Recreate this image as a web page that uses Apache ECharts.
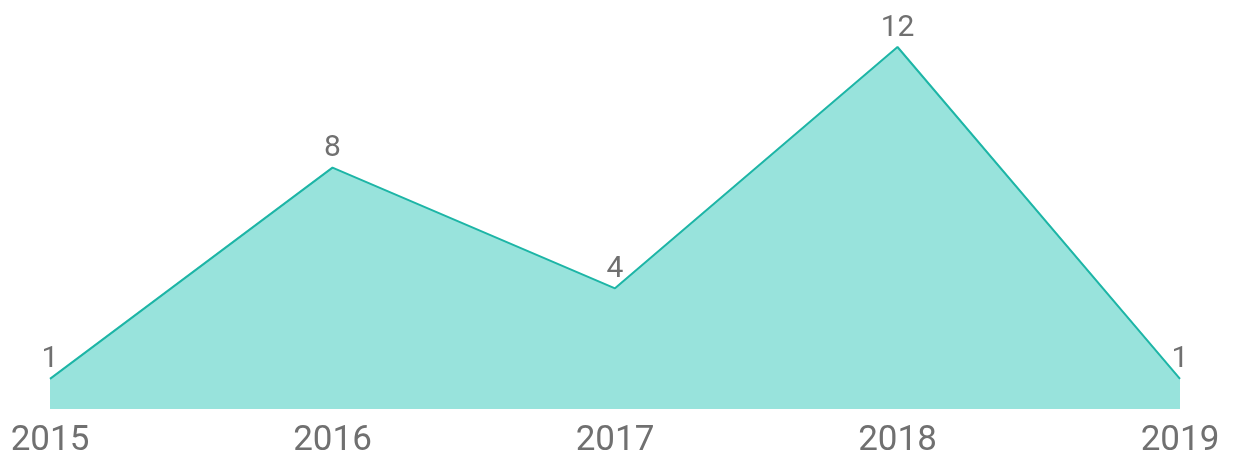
<!DOCTYPE html>
<html>
<head>
<meta charset="utf-8">
<script src="https://cdn.jsdelivr.net/npm/echarts@6/dist/echarts.min.js"></script>
<style>html,body{margin:0;padding:0;background:#fff;}#c{width:1234px;height:459px;}</style>
</head>
<body>
<div id="c"></div>
<script>
const categories = ['2015', '2016', '2017', '2018', '2019'];
const values = [1, 8, 4, 12, 1];

const chart = echarts.init(document.getElementById('c'), null, {renderer: 'canvas'});
chart.setOption({
  animation: false,
  grid: {left: 50, right: 54, top: 47, bottom: 49, containLabel: false},
  xAxis: {
    type: 'category',
    data: categories,
    boundaryGap: false,
    axisLine: {show: false},
    axisTick: {show: false},
    splitLine: {show: false},
    axisLabel: {
      color: '#707070',
      fontFamily: 'Roboto',
      fontSize: 35,
      margin: 15,
      showMinLabel: true,
      showMaxLabel: true,
      hideOverlap: false
    }
  },
  yAxis: {
    type: 'value',
    min: 0,
    max: 12,
    show: false
  },
  series: [{
    type: 'line',
    data: values,
    symbol: 'circle',
    symbolSize: 2,
    showSymbol: true,
    showAllSymbol: true,
    itemStyle: {color: 'rgba(0,0,0,0)', borderWidth: 0},
    lineStyle: {color: '#1db5a6', width: 2},
    areaStyle: {color: '#98e3dc', opacity: 1},
    labelLayout: {hideOverlap: false},
    label: {
      show: true,
      position: 'top',
      distance: 3,
      color: '#707070',
      fontFamily: 'Roboto',
      fontSize: 30
    }
  }]
});
</script>
</body>
</html>
